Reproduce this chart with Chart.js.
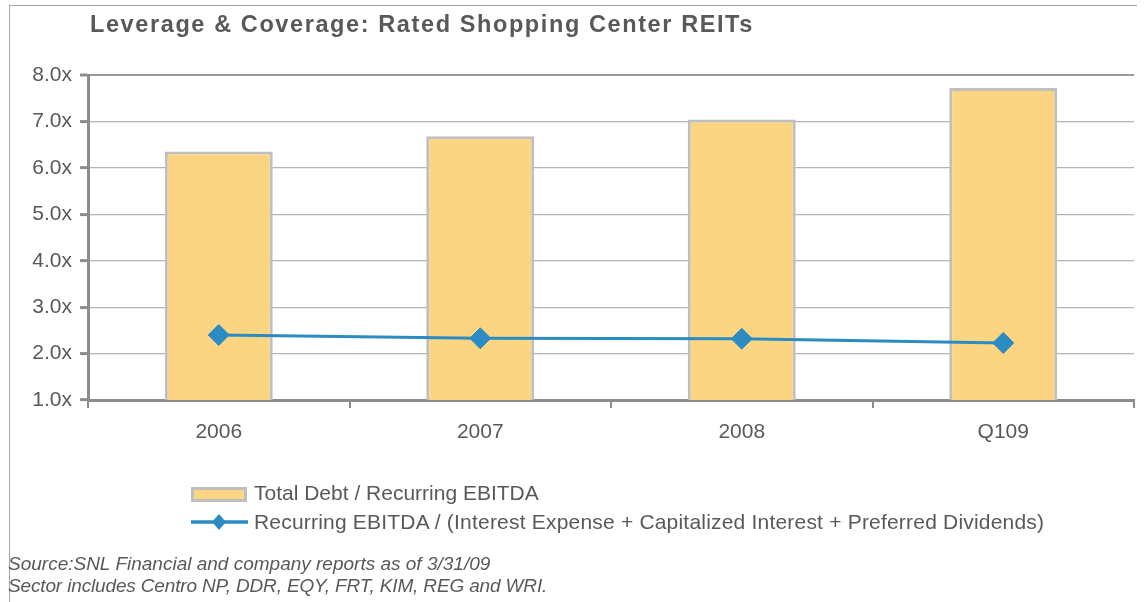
<!DOCTYPE html>
<html>
<head>
<meta charset="utf-8">
<script src="https://cdn.jsdelivr.net/npm/chart.js@4/dist/chart.umd.min.js"></script>
<style>
  html, body { margin: 0; padding: 0; background: #fff; }
  #wrap { position: relative; width: 1147px; height: 602px; overflow: hidden; font-family: "Liberation Sans", Arial, sans-serif; color: #595959; }
  #frameTop { position: absolute; left: 9px; top: 5px; width: 1128px; height: 1px; background: #a6a6a6; }
  #frameLeft { position: absolute; left: 9px; top: 5px; width: 1px; height: 600px; background: #a6a6a6; }
  canvas { position: absolute; left: 0; top: 0; }
  .t { position: absolute; white-space: nowrap; line-height: 1; }
  #title { left: 90px; top: 13px; font-size: 23.5px; font-weight: bold; letter-spacing: 1.6px; }
  .leg { left: 254px; font-size: 21px; }
  #leg1 { top: 482px; letter-spacing: 0px; }
  #leg2 { top: 511px; letter-spacing: 0.2px; }
  .src { left: 8px; font-size: 19px; font-style: italic; }
  #src1 { top: 554px; }
  #src2 { top: 576px; letter-spacing: -0.15px; }
  #sw1 { position: absolute; left: 191px; top: 487px; width: 56px; height: 15px; box-sizing: border-box; border: 3px solid #bfbfbf; background: #fcd583; }
  #sw2 { position: absolute; left: 189px; top: 512px; }
</style>
</head>
<body>
<div id="wrap">
  <div id="frameTop"></div>
  <div id="frameLeft"></div>
  <canvas id="c" width="1147" height="602"></canvas>
  <div class="t" id="title"></div>
  <div id="sw1"></div>
  <svg id="sw2" width="62" height="20"><line x1="2" y1="10" x2="59" y2="10" stroke="#2b8bc3" stroke-width="3.5"/><polygon points="30,2 37,10 30,18 23,10" fill="#2b8bc3"/></svg>
  <div class="t leg" id="leg1"></div>
  <div class="t leg" id="leg2"></div>
  <div class="t src" id="src1"></div>
  <div class="t src" id="src2"></div>
</div>
<script>
const titleText = 'Leverage & Coverage: Rated Shopping Center REITs';
const categories = ['2006', '2007', '2008', 'Q109'];
const debtToEbitda = [6.35, 6.68, 7.04, 7.72];
const ebitdaCoverage = [2.40, 2.33, 2.32, 2.23];
const yTickValues = [1, 2, 3, 4, 5, 6, 7, 8];
const seriesNames = ['Total Debt / Recurring EBITDA', 'Recurring EBITDA / (Interest Expense + Capitalized Interest + Preferred Dividends)'];
const sourceLines = ['Source:SNL Financial and company reports as of 3/31/09', 'Sector includes Centro NP, DDR, EQY, FRT, KIM, REG and WRI.'];

document.getElementById('title').textContent = titleText;
document.getElementById('leg1').textContent = seriesNames[0];
document.getElementById('leg2').textContent = seriesNames[1];
document.getElementById('src1').textContent = sourceLines[0];
document.getElementById('src2').textContent = sourceLines[1];

const textColor = '#595959';
const axisColor = '#8c8c8c';

new Chart(document.getElementById('c'), {
  data: {
    labels: categories,
    datasets: [
      {
        type: 'line',
        label: seriesNames[1],
        data: ebitdaCoverage,
        borderColor: '#2b8bc3',
        backgroundColor: '#2b8bc3',
        borderWidth: 3,
        pointStyle: 'rectRot',
        pointRadius: 10.5,
        pointBorderWidth: 1,
        tension: 0,
        order: 1
      },
      {
        type: 'bar',
        label: seriesNames[0],
        data: debtToEbitda,
        backgroundColor: '#fcd583',
        borderColor: '#bfbfbf',
        borderWidth: 3,
        borderSkipped: 'bottom',
        barPercentage: 0.413,
        categoryPercentage: 1,
        order: 2
      }
    ]
  },
  options: {
    responsive: false,
    devicePixelRatio: 1,
    animation: false,
    layout: { padding: { left: 0, right: 13, top: 75, bottom: 0 } },
    plugins: { legend: { display: false }, tooltip: { enabled: false }, title: { display: false } },
    scales: {
      x: {
        type: 'category',
        offset: true,
        afterFit: s => { s.height = 202; },
        border: { display: true, color: axisColor, width: 3 },
        grid: {
          offset: true,
          drawOnChartArea: true,
          drawTicks: true,
          tickLength: 8,
          tickColor: axisColor,
          tickWidth: 2,
          color: ctx => (ctx.index === categories.length ? '#9a9a9a' : 'rgba(0,0,0,0)'),
          lineWidth: 2
        },
        ticks: { color: textColor, font: { family: 'Liberation Sans', size: 21 }, padding: 12 }
      },
      y: {
        type: 'linear',
        min: yTickValues[0],
        max: yTickValues[yTickValues.length - 1],
        afterFit: s => { s.width = 88; },
        afterBuildTicks: s => { s.ticks = yTickValues.map(v => ({ value: v })); },
        border: { display: true, color: axisColor, width: 3 },
        grid: {
          drawTicks: true,
          tickLength: 8,
          tickColor: axisColor,
          tickWidth: 3,
          color: ctx => (ctx.tick && ctx.tick.value === 8 ? '#9a9a9a' : '#b4b4b4'),
          lineWidth: ctx => (ctx.tick && ctx.tick.value === 8 ? 2 : 1.2)
        },
        ticks: {
          color: textColor,
          font: { family: 'Liberation Sans', size: 21 },
          padding: 8,
          callback: v => Number(v).toFixed(1) + 'x'
        }
      }
    }
  }
});
</script>
</body>
</html>
